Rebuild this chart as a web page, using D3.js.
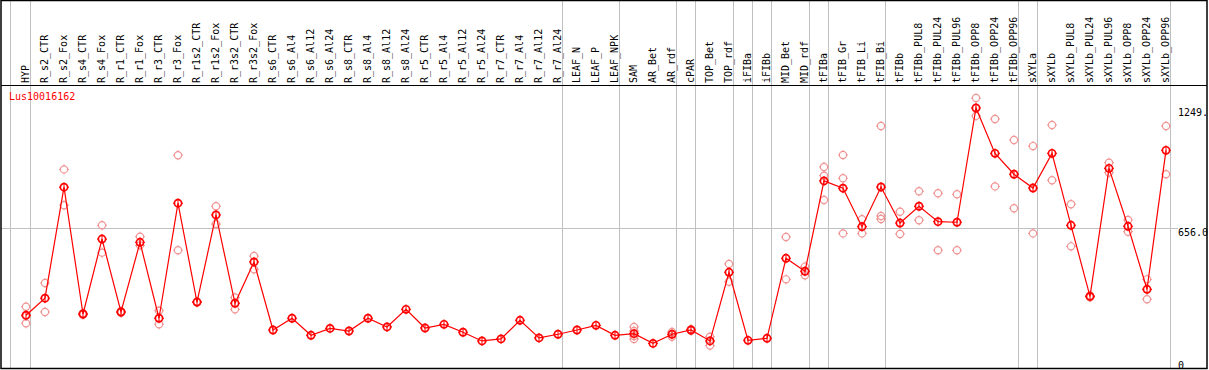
<!DOCTYPE html>
<html>
<head>
<meta charset="utf-8">
<script src="https://cdn.jsdelivr.net/npm/d3@7"></script>
<style>
  body { margin: 0; background: #fff; }
  text { font-family: "DejaVu Sans Mono", "Liberation Mono", monospace; font-size: 10px; }
</style>
</head>
<body>
<div id="chart"></div>
<script>
var geneName = "Lus10016162";

var categories = ["HYP","R_s2_CTR","R_s2_Fox","R_s4_CTR","R_s4_Fox","R_r1_CTR","R_r1_Fox","R_r3_CTR","R_r3_Fox",
  "R_r1s2_CTR","R_r1s2_Fox","R_r3s2_CTR","R_r3s2_Fox","R_s6_CTR","R_s6_Al4","R_s6_Al12","R_s6_Al24",
  "R_s8_CTR","R_s8_Al4","R_s8_Al12","R_s8_Al24","R_r5_CTR","R_r5_Al4","R_r5_Al12","R_r5_Al24",
  "R_r7_CTR","R_r7_Al4","R_r7_Al12","R_r7_Al24","LEAF_N","LEAF_P","LEAF_NPK","SAM","AR_Bet","AR_rdf",
  "cPAR","TOP_Bet","TOP_rdf","iFIBa","iFIBb","MID_Bet","MID_rdf","tFIBa","tFIB_Gr","tFIB_Li","tFIB_Bi",
  "tFIBb","tFIBb_PUL8","tFIBb_PUL24","tFIBb_PUL96","tFIBb_OPP8","tFIBb_OPP24","tFIBb_OPP96",
  "sXYLa","sXYLb","sXYLb_PUL8","sXYLb_PUL24","sXYLb_PUL96","sXYLb_OPP8","sXYLb_OPP24","sXYLb_OPP96"];

// mean expression per sample
var means = [226,310,858,232,602,242,586,211,779,
  291,721,285,489,153,211,127,161,
  148,211,168,255,163,181,142,99,
  109,201,114,132,153,176,127,135,87,132,
  153,99,438,102,112,507,443,889,853,663,859,
  681,764,688,685,1249,1025,922,
  854,1025,670,319,951,665,354,1040];

// individual replicates (only where they show apart from the mean)
var replicates = [[268,222,186],[385,242],[946,769],[228,236],[670,535],[238,246],[614,571],[248,181],[1016,547],
  [289,293],[764,676],[314,255],[518,453],[],[],[],[],
  [],[],[],[],[],[],[],[],
  [],[],[],[],[],[],[],[168,148,123,109],[],[143,120],
  [149,157],[120,76],[479,391],[],[],[612,403],[466,423],[958,915,795],[1017,902,630],[700,630],[1160,716,701],
  [737,627],[838,695],[828,547],[823,547],[1298,1210],[1195,862],[1091,754],
  [1061,630],[1165,892],[774,566],[315,323],[979,930],[696,638],[403,305],[1160,922]];

// group separators come after these sample indices
var groupEnds = [0,28,31,34,35,37,38,39,41,42,45,52,53,60];

var tickValues = [0, 656, 1249];
var tickLabels = ["0", "656.0", "1249."];

var W = 1209, H = 370;
var labelBottom = 85;

var svg = d3.select("#chart").append("svg").attr("width", W).attr("height", H);

var x = d3.scalePoint().domain(categories).range([26, 1166]);
var y = d3.scaleLinear().domain([0, 1249]).range([361, 108]);

// grid
svg.append("line")
    .attr("x1", 10.5).attr("x2", 10.5).attr("y1", 0).attr("y2", 369)
    .attr("stroke", "#c0c0c0");
svg.selectAll(".vgrid")
    .data(groupEnds)
  .enter().append("line")
    .attr("class", "vgrid")
    .attr("x1", function(d) { return Math.floor(x(categories[d])) + 4.5; })
    .attr("x2", function(d) { return Math.floor(x(categories[d])) + 4.5; })
    .attr("y1", 0).attr("y2", 369)
    .attr("stroke", "#c0c0c0");
svg.append("line")
    .attr("x1", 1).attr("x2", 1178)
    .attr("y1", Math.round(y(656)) + 0.5).attr("y2", Math.round(y(656)) + 0.5)
    .attr("stroke", "#c0c0c0");

// frame
svg.append("rect")
    .attr("x", 1).attr("y", 0.5).attr("width", 1206).attr("height", 368)
    .attr("fill", "none").attr("stroke", "#000").attr("stroke-width", 1.5);
svg.append("line")
    .attr("x1", 1).attr("x2", 1207).attr("y1", labelBottom + 0.5).attr("y2", labelBottom + 0.5)
    .attr("stroke", "#000");

// sample labels
svg.selectAll(".lab")
    .data(categories)
  .enter().append("text")
    .attr("class", "lab")
    .attr("transform", function(d) { return "translate(" + (x(d) + 3) + "," + (labelBottom - 2) + ") rotate(-90)"; })
    .attr("text-anchor", "start")
    .attr("fill", "#000")
    .text(function(d) { return d; });

// y ticks on the right
svg.selectAll(".ytick")
    .data(tickValues)
  .enter().append("text")
    .attr("class", "ytick")
    .attr("x", 1178)
    .attr("y", function(d) { return y(d) + 7.5; })
    .attr("fill", "#000")
    .text(function(d, i) { return tickLabels[i]; });

svg.append("text")
    .attr("x", 9).attr("y", 100)
    .attr("fill", "#ff0000")
    .text(geneName);

function marker(g, color, width) {
  g.append("circle").attr("r", 3.6).attr("fill", "none").attr("stroke", color).attr("stroke-width", width);
  [[0,-1],[0,1],[-1,0],[1,0]].forEach(function(v) {
    g.append("line")
      .attr("x1", v[0] * 3.5).attr("y1", v[1] * 3.5)
      .attr("x2", v[0] * 5).attr("y2", v[1] * 5)
      .attr("stroke", color).attr("stroke-width", 1);
  });
}

// replicates
var reps = [];
replicates.forEach(function(r, i) {
  r.forEach(function(v) { reps.push({cat: categories[i], value: v}); });
});
svg.selectAll(".rep")
    .data(reps)
  .enter().append("g")
    .attr("class", "rep")
    .attr("transform", function(d) { return "translate(" + x(d.cat) + "," + y(d.value) + ")"; })
    .each(function() { marker(d3.select(this), "#f09494", 1.2); });

// mean line
var line = d3.line()
    .x(function(d, i) { return x(categories[i]); })
    .y(function(d) { return y(d); });
svg.append("path")
    .datum(means)
    .attr("d", line)
    .attr("fill", "none")
    .attr("stroke", "#ff0000")
    .attr("stroke-width", 1.2);

var mg = svg.selectAll(".mean")
    .data(means)
  .enter().append("g")
    .attr("class", "mean")
    .attr("transform", function(d, i) { return "translate(" + x(categories[i]) + "," + y(d) + ")"; })
    .each(function() { marker(d3.select(this), "#ff0000", 1.7); });
mg.append("line")
    .attr("x1", 0).attr("x2", 0).attr("y1", -3).attr("y2", 3)
    .attr("stroke", "#ff0000").attr("stroke-width", 1);
</script>
</body>
</html>
